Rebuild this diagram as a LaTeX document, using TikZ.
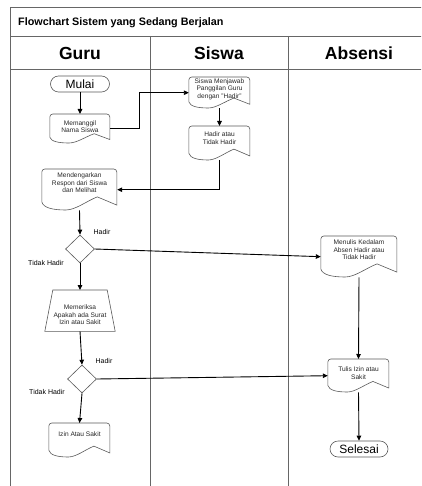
\documentclass[tikz,border=0pt]{standalone}
\usepackage{fontspec}
\setmainfont{Liberation Sans}
\usetikzlibrary{arrows.meta,shapes.geometric}
\tikzset{
 lane/.style={draw=black!60, line width=0.9pt},
 shapeline/.style={draw=black!65, line width=0.6pt},
 docbox/.style={rectangle, draw=none, inner sep=0pt, anchor=north},
 doctext/.style={font=\fontsize{6.6}{7.6}\selectfont, align=center, inner sep=0pt, text=black!85},
 term/.style={shapeline, rectangle, rounded corners=8pt, minimum height=16pt, inner sep=0pt, font=\fontsize{12}{14}\selectfont},
 decision/.style={shapeline, diamond, minimum width=29pt, minimum height=28pt, inner sep=0pt},
 flow/.style={draw=black, line width=0.9pt, -{Triangle[length=5pt,width=4.5pt]}},
 cond/.style={font=\fontsize{7}{8}\selectfont},
 lanetitle/.style={font=\bfseries\fontsize{17.5}{20}\selectfont},
}
% name, x, ytop, w, h, text y, text
\newcommand\docnode[7]{%
 \node[docbox, minimum width=#4pt, minimum height=#5pt] (#1) at (#2,#3) {};
 \begin{scope}[shift={(#1.north west)}, xscale=#4, yscale=#5]
  \draw[shapeline] (0,0.8) [rounded corners=3pt] -- (0,0) -- (1,0) [sharp corners] -- (1,0.88)
   -- (0.74,0.68) .. controls (0.6,0.78) and (0.45,1.0) .. (0.32,1.0)
   .. controls (0.15,1.0) and (0.02,0.95) .. (0,0.8) -- cycle;
 \end{scope}
 \node[doctext] (#1-t) at (#2,#6) {#7};
}
\begin{document}
\begin{tikzpicture}[x=1pt,y=-1pt]
\useasboundingbox (0,0) rectangle (421,486);
\clip (0,0) rectangle (421,486);
% frame and lanes
\draw[lane] (10,495) -- (10,7.5) -- (440,7.5);
\draw[lane] (10,36) -- (440,36);
\draw[lane] (10,69) -- (440,69);
\draw[lane] (150,36) -- (150,495);
\draw[lane] (288,36) -- (288,495);
\node[anchor=west, font=\bfseries\fontsize{10.8}{12}\selectfont, inner sep=0pt] (title) at (18,23) {Flowchart Sistem yang Sedang Berjalan};
\node[lanetitle] (guru) at (80,53) {Guru};
\node[lanetitle] (siswa) at (219,53) {Siswa};
\node[lanetitle] (absensi) at (359,53) {Absensi};
% nodes
\node[term, minimum width=59pt] (mulai) at (80,84) {Mulai};
\docnode{mem}{80}{114}{60}{29}{126.5}{Memanggil\\Nama Siswa}
\docnode{sis}{219.5}{77}{61}{31}{89}{Siswa Menjawab\\Panggilan Guru\\dengan "Hadir"}
\docnode{had}{219.5}{126}{61}{34}{138}{Hadir atau\\Tidak Hadir}
\docnode{mend}{79.5}{169}{75}{41}{182.7}{Mendengarkan\\Respon dari Siswa\\dan Melihat}
\node[decision] (d1) at (80,249) {};
\docnode{men}{359}{236}{76}{41}{250}{Menulis Kedalam\\Absen Hadir atau\\Tidak Hadir}
\node[docbox, minimum width=70pt, minimum height=41pt] (trap) at (80,290) {};
\draw[shapeline] ([xshift=8pt]trap.north west) -- ([xshift=-8pt]trap.north east) -- (trap.south east) -- (trap.south west) -- cycle;
\node[doctext] (trap-t) at (80,315) {Memeriksa\\Apakah ada Surat\\Izin atau Sakit};
\node[decision] (d2) at (82,379) {};
\docnode{tulis}{358.5}{359}{61}{33}{373}{Tulis Izin atau\\Sakit}
\docnode{izin}{79.5}{423}{61}{34}{434}{Izin Atau Sakit}
\node[term, minimum width=58pt] (sel) at (359,449) {Selesai};
% labels
\node[cond] (h1) at (102,232) {Hadir};
\node[cond] (t1) at (46,263) {Tidak Hadir};
\node[cond] (h2) at (104,361) {Hadir};
\node[cond] (t2) at (47,392) {Tidak Hadir};
% connectors
\draw[flow] (mulai) -- (mem);
\draw[flow] (mem.east) -- ++(29,0) |- (sis.west);
\draw[flow] (sis.south) -- (had.north);
\draw[flow] (had.south) |- (mend.east);
\draw[flow] (mend.south) -- (d1.north);
\draw[flow] (d1.east) -- (men.west);
\draw[flow] (d1.south) -- (trap.north);
\draw[flow] (trap.south) -- (d2.north);
\draw[flow] (d2.east) -- (tulis.west);
\draw[flow] (men.south) -- (tulis.north);
\draw[flow] (tulis.south) -- (sel.north);
\draw[flow] (d2.south) -- (izin.north);
\end{tikzpicture}
\end{document}
